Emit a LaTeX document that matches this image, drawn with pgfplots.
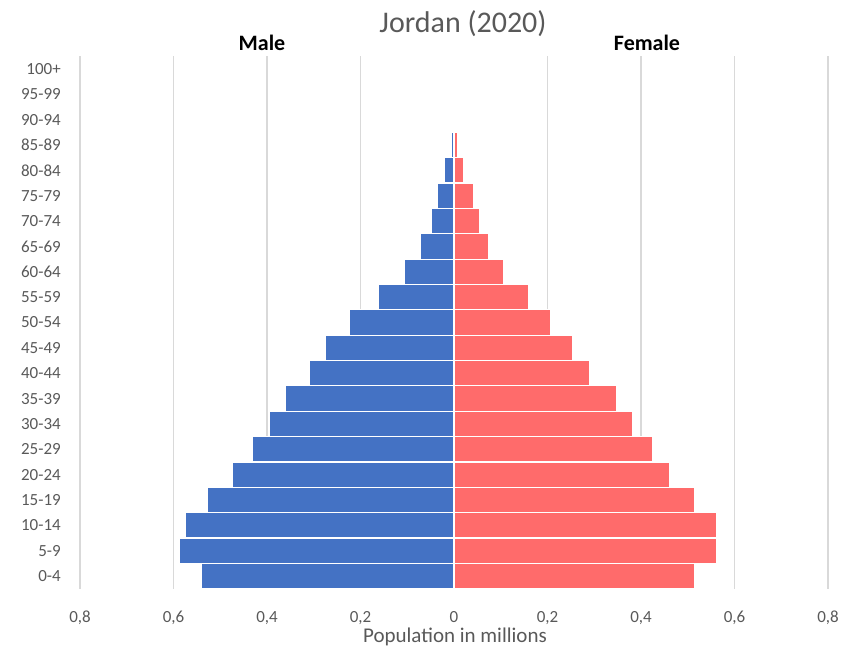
\documentclass[border=0pt]{standalone}
\usepackage{pgfplots}
\pgfplotsset{compat=1.18}
\usepackage{fontspec}
\setmainfont{Carlito}
\definecolor{mblue}{HTML}{4472C4}
\definecolor{fred}{HTML}{FF6B6B}
\definecolor{tgray}{HTML}{595959}
\definecolor{ggray}{HTML}{D9D9D9}
\begin{document}
\begin{tikzpicture}[x=1pt,y=1pt]
\path[use as bounding box] (0,0) rectangle (841,648);
\begin{axis}[
  at={(80pt,59.3pt)}, anchor=south west,
  scale only axis, width=748pt, height=532.4pt,
  xmin=-0.8, xmax=0.8, ymin=-0.5, ymax=20.5,
  xbar, bar shift=0pt, bar width=1,
  axis line style={draw=none}, major tick length=0pt,
  xtick={-0.8,-0.6,-0.4,-0.2,0.2,0.4,0.6,0.8},
  xticklabels={{0,8},{0,6},{0,4},{0,2},{0,2},{0,4},{0,6},{0,8}},
  extra x ticks={0}, extra x tick labels={0}, extra x tick style={grid=none},
  xmajorgrids, major grid style={ggray, line width=1.2pt},
  ytick={0,...,20},
  yticklabels={0-4,5-9,10-14,15-19,20-24,25-29,30-34,35-39,40-44,45-49,50-54,55-59,60-64,65-69,70-74,75-79,80-84,85-89,90-94,95-99,100+},
  ticklabel style={font=\fontsize{17}{20}\selectfont, text=tgray},
  xticklabel style={anchor=base, yshift=-34pt},
  yticklabel style={anchor=east, inner sep=0pt, xshift=-19pt},
]
\addplot[fill=mblue, draw=white, line width=1.2pt] coordinates {
(-0.541,0) (-0.588,1) (-0.574,2) (-0.527,3) (-0.475,4) (-0.432,5) (-0.394,6)
(-0.361,7) (-0.309,8) (-0.276,9) (-0.224,10) (-0.162,11) (-0.106,12)
(-0.072,13) (-0.049,14) (-0.035,15) (-0.0215,16) (-0.006,17)
};
\addplot[fill=fred, draw=white, line width=1.2pt] coordinates {
(0.514,0) (0.561,1) (0.561,2) (0.514,3) (0.462,4) (0.424,5) (0.381,6)
(0.348,7) (0.291,8) (0.253,9) (0.206,10) (0.159,11) (0.107,12)
(0.074,13) (0.055,14) (0.041,15) (0.021,16) (0.008,17)
};
\end{axis}
\node[text=tgray, font=\fontsize{30}{36}\selectfont] at (463,624) {Jordan (2020)};
\node[text=black, font=\fontsize{22}{26}\selectfont\bfseries] at (262,605) {Male};
\node[text=black, font=\fontsize{22}{26}\selectfont\bfseries] at (647,605) {Female};
\node[text=tgray, font=\fontsize{21}{25}\selectfont] at (455,11) {Population in millions};
\end{tikzpicture}
\end{document}
